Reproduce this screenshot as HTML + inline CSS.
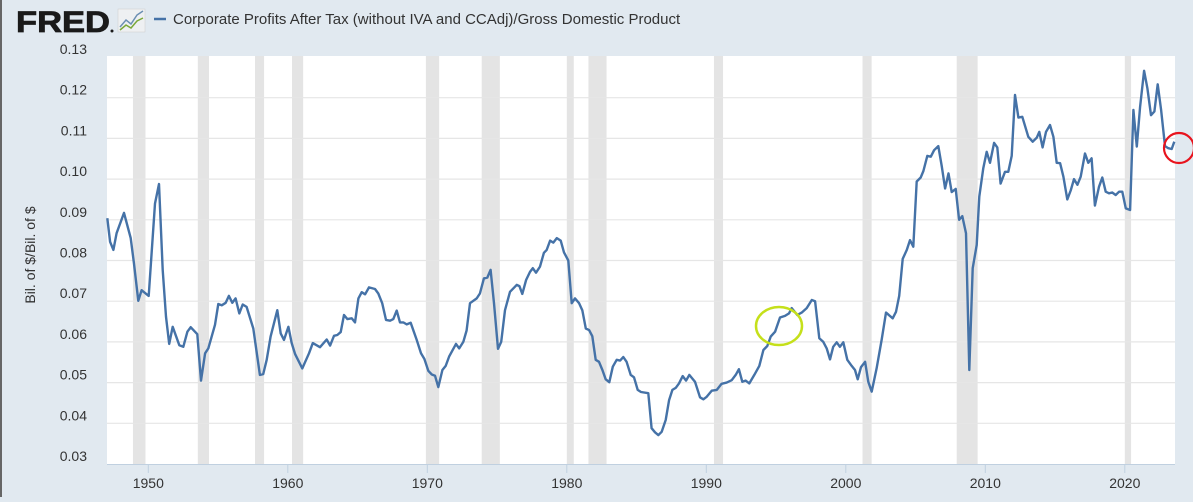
<!DOCTYPE html>
<html><head><meta charset="utf-8">
<style>
body{margin:0;background:#e1e9f0;width:1193px;height:497px;overflow:hidden;font-family:"Liberation Sans",sans-serif}
</style></head>
<body>
<svg width="1193" height="497" xmlns="http://www.w3.org/2000/svg">
<rect x="0" y="0" width="1193" height="497" fill="#e1e9f0"/>
<rect x="0" y="0" width="2" height="497" fill="#666"/>
<g>
<text x="16" y="32" font-size="30" font-weight="bold" fill="#1a1a1a" font-family="Liberation Sans, sans-serif" textLength="94" lengthAdjust="spacingAndGlyphs" stroke="#1a1a1a" stroke-width="0.8">FRED</text>
<circle cx="112" cy="31" r="1.5" fill="#1a1a1a"/>
<rect x="118" y="9" width="27" height="23" fill="#eef0f2" stroke="#ccc" stroke-width="0.5"/>
<polyline points="120,27 126,20 131,24 137,15 143,11" fill="none" stroke="#6b8fb3" stroke-width="1.5"/>
<polyline points="120,30 126,25 131,28 137,21 143,18" fill="none" stroke="#7aa83a" stroke-width="1.5"/>
</g>
<line x1="154" y1="19" x2="166" y2="19" stroke="#4572a7" stroke-width="2.5"/>
<text x="173" y="24" font-size="15" fill="#333">Corporate Profits After Tax (without IVA and CCAdj)/Gross Domestic Product</text>
<rect x="107" y="56" width="1068" height="408" fill="#fff"/>
<g id="rec"></g>
<g id="grid"></g>
<g id="ticks"></g>
<path id="series" fill="none" stroke="#4572a7" stroke-width="2.4" stroke-linejoin="round"/>
<text transform="translate(35,255) rotate(-90)" text-anchor="middle" font-size="14" fill="#333">Bil. of $/Bil. of $</text>
<ellipse cx="779" cy="326" rx="23" ry="19" fill="none" stroke="#c5e01a" stroke-width="2.5"/>
<circle cx="1179" cy="148" r="15" fill="none" stroke="#e8141e" stroke-width="2.2"/>
</svg>
<script>
const years=[1947.06,1947.26,1947.5,1947.73,1948.26,1948.74,1948.97,1949.28,1949.52,1950.03,1950.48,1950.77,1951.03,1951.27,1951.5,1951.75,1952.22,1952.51,1952.8,1953.04,1953.51,1953.78,1954.07,1954.3,1954.78,1955.02,1955.26,1955.55,1955.78,1956.02,1956.26,1956.52,1956.77,1957.05,1957.53,1958.0,1958.24,1958.49,1958.77,1959.25,1959.49,1959.73,1960.04,1960.28,1960.52,1961.04,1961.52,1961.79,1962.31,1962.79,1963.03,1963.31,1963.55,1963.79,1964.03,1964.27,1964.58,1964.82,1965.06,1965.3,1965.54,1965.82,1966.25,1966.49,1966.77,1967.04,1967.33,1967.56,1967.81,1968.04,1968.28,1968.52,1968.81,1969.24,1969.55,1969.79,1970.07,1970.32,1970.55,1970.79,1971.08,1971.32,1971.56,1972.06,1972.29,1972.58,1972.82,1973.06,1973.54,1973.77,1974.06,1974.3,1974.54,1974.78,1975.07,1975.3,1975.57,1975.93,1976.41,1976.6,1976.81,1977.08,1977.36,1977.56,1977.79,1978.08,1978.36,1978.56,1978.8,1979.03,1979.28,1979.56,1979.8,1980.11,1980.35,1980.59,1980.88,1981.11,1981.36,1981.6,1981.83,1982.07,1982.31,1982.55,1982.79,1983.05,1983.3,1983.58,1983.82,1984.05,1984.29,1984.58,1984.82,1985.08,1985.32,1985.84,1986.08,1986.32,1986.56,1986.8,1987.09,1987.33,1987.57,1987.81,1988.04,1988.31,1988.55,1988.78,1989.19,1989.55,1989.79,1990.03,1990.39,1990.75,1991.1,1991.46,1991.82,1992.11,1992.34,1992.58,1992.82,1993.08,1993.44,1993.8,1994.09,1994.37,1994.62,1994.93,1995.28,1995.64,1995.93,1996.12,1996.52,1996.84,1997.2,1997.56,1997.8,1998.1,1998.39,1998.63,1998.87,1999.1,1999.35,1999.58,1999.82,2000.11,2000.42,2000.66,2000.85,2001.09,2001.38,2001.61,2001.86,2002.21,2002.57,2002.88,2003.36,2003.6,2003.83,2004.08,2004.37,2004.6,2004.84,2005.08,2005.37,2005.56,2005.84,2006.09,2006.33,2006.63,2006.88,2007.12,2007.36,2007.59,2007.88,2008.12,2008.35,2008.62,2008.85,2009.1,2009.38,2009.57,2009.86,2010.1,2010.34,2010.63,2010.86,2011.1,2011.41,2011.65,2011.89,2012.13,2012.37,2012.65,2013.08,2013.4,2013.69,2013.87,2014.11,2014.35,2014.64,2014.88,2015.12,2015.36,2015.6,2015.88,2016.12,2016.36,2016.6,2016.84,2017.15,2017.38,2017.62,2017.86,2018.15,2018.39,2018.63,2018.87,2019.1,2019.35,2019.59,2019.82,2020.07,2020.38,2020.62,2020.86,2021.1,2021.38,2021.62,2021.88,2022.12,2022.36,2022.6,2022.88,2023.12,2023.36,2023.55];
const values=[0.0904,0.0846,0.0826,0.0867,0.0917,0.0855,0.0794,0.0701,0.0727,0.0713,0.094,0.0988,0.0777,0.0662,0.0595,0.0637,0.0592,0.0588,0.0625,0.0636,0.0619,0.0505,0.0572,0.0584,0.0642,0.0693,0.069,0.0696,0.0713,0.0696,0.0707,0.067,0.0692,0.0686,0.0633,0.0519,0.0521,0.0556,0.0613,0.0678,0.0621,0.0605,0.0637,0.0597,0.057,0.0535,0.0572,0.0597,0.0587,0.0606,0.0591,0.0615,0.0617,0.0624,0.0666,0.0656,0.0658,0.0648,0.0707,0.0722,0.0717,0.0734,0.073,0.0719,0.0695,0.0654,0.0652,0.0656,0.0677,0.0648,0.0648,0.0643,0.0647,0.0605,0.0572,0.0558,0.0529,0.052,0.0517,0.0489,0.0531,0.0541,0.0564,0.0595,0.0584,0.06,0.0628,0.0695,0.0707,0.0719,0.0756,0.0758,0.0777,0.0695,0.0583,0.06,0.0678,0.0723,0.074,0.0737,0.0718,0.0752,0.0772,0.0781,0.077,0.0785,0.0819,0.0826,0.0849,0.0844,0.0855,0.0849,0.082,0.08,0.0695,0.0707,0.0695,0.0678,0.0633,0.0629,0.0614,0.0556,0.0551,0.0531,0.0508,0.0501,0.0539,0.0556,0.0554,0.0563,0.0551,0.0519,0.0513,0.0482,0.0477,0.0474,0.0388,0.0378,0.0371,0.0379,0.0408,0.0457,0.0482,0.0487,0.0498,0.0516,0.0505,0.0519,0.0502,0.0464,0.0459,0.0465,0.048,0.0482,0.0497,0.05,0.0506,0.0519,0.0533,0.0502,0.0505,0.0498,0.0519,0.0541,0.058,0.059,0.0613,0.0625,0.066,0.0664,0.067,0.0683,0.0666,0.0672,0.0683,0.0703,0.07,0.0609,0.06,0.0584,0.0557,0.0588,0.0599,0.0588,0.0599,0.0556,0.0541,0.0531,0.0508,0.0538,0.0551,0.0502,0.0478,0.0535,0.0606,0.0672,0.0658,0.0674,0.0713,0.0804,0.0826,0.085,0.0834,0.0994,0.1004,0.102,0.1057,0.1055,0.1071,0.1081,0.1031,0.0977,0.1014,0.0968,0.0976,0.09,0.0909,0.0867,0.0531,0.0781,0.0838,0.0957,0.1027,0.1067,0.104,0.1089,0.1078,0.0989,0.1018,0.1018,0.1057,0.1207,0.1151,0.1153,0.1104,0.1092,0.1102,0.1116,0.1078,0.1116,0.1133,0.1104,0.104,0.1039,0.1006,0.095,0.0972,0.1,0.0986,0.1006,0.1063,0.104,0.1051,0.0935,0.0981,0.1004,0.0969,0.0965,0.0967,0.0961,0.0969,0.0969,0.0928,0.0924,0.117,0.108,0.1178,0.1266,0.1223,0.1157,0.1166,0.1233,0.117,0.1081,0.1076,0.1074,0.1092];
const recessionStarts=[1948.9,1953.55,1957.65,1960.3,1969.9,1973.9,1980.0,1981.55,1990.55,2001.2,2007.95,2020.0];
const recessionEnds=[1949.8,1954.35,1958.3,1961.1,1970.85,1975.2,1980.5,1982.85,1991.2,2001.85,2009.45,2020.45];
const yTicks=[0.03,0.04,0.05,0.06,0.07,0.08,0.09,0.10,0.11,0.12,0.13];
const yTickLabels=["0.03","0.04","0.05","0.06","0.07","0.08","0.09","0.10","0.11","0.12","0.13"];
const xTicks=[1950,1960,1970,1980,1990,2000,2010,2020];

const NS="http://www.w3.org/2000/svg";
function xS(yr){return 148.3+(yr-1950)*13.95;}
function yS(v){return 464-(v-0.03)*4070;}
const rec=document.getElementById('rec');
for(let i=0;i<recessionStarts.length;i++){
  const r=document.createElementNS(NS,'rect');
  r.setAttribute('x',xS(recessionStarts[i]));r.setAttribute('y',56);
  r.setAttribute('width',Math.max(xS(recessionEnds[i])-xS(recessionStarts[i]),2));r.setAttribute('height',408);
  r.setAttribute('fill','#e4e4e4');
  
  
  rec.appendChild(r);
}
const grid=document.getElementById('grid');
const ticks=document.getElementById('ticks');
yTicks.forEach((v,i)=>{
  const y=yS(v);
  if(i>0&&i<yTicks.length-1){
    const l=document.createElementNS(NS,'line');
    l.setAttribute('x1',107);l.setAttribute('x2',1175);l.setAttribute('y1',y);l.setAttribute('y2',y);
    l.setAttribute('stroke','#e6e6e6');l.setAttribute('stroke-width','1.2');
    
    
    grid.appendChild(l);
  }
  const t=document.createElementNS(NS,'text');
  t.setAttribute('x',87);t.setAttribute('y',y-3);t.setAttribute('text-anchor','end');
  t.setAttribute('font-size','14');t.setAttribute('fill','#333');
  t.textContent=yTickLabels[i];
  
  
  ticks.appendChild(t);
});
const ax=document.createElementNS(NS,'line');
ax.setAttribute('x1',107);ax.setAttribute('x2',1175);ax.setAttribute('y1',464.5);ax.setAttribute('y2',464.5);
ax.setAttribute('stroke','#c0d0e0');


ticks.appendChild(ax);
xTicks.forEach(yr=>{
  const x=xS(yr);
  const l=document.createElementNS(NS,'line');
  l.setAttribute('x1',x);l.setAttribute('x2',x);l.setAttribute('y1',464);l.setAttribute('y2',473);
  l.setAttribute('stroke','#c0d0e0');
  
  
  ticks.appendChild(l);
  const t=document.createElementNS(NS,'text');
  t.setAttribute('x',x);t.setAttribute('y',488);t.setAttribute('text-anchor','middle');
  t.setAttribute('font-size','14');t.setAttribute('fill','#333');
  t.textContent=yr;
  
  
  ticks.appendChild(t);
});
let d='';
years.forEach((yr,i)=>{d+=(i?'L':'M')+xS(yr).toFixed(1)+','+yS(values[i]).toFixed(1);});
document.getElementById('series').setAttribute('d',d);
</script>
</body></html>
